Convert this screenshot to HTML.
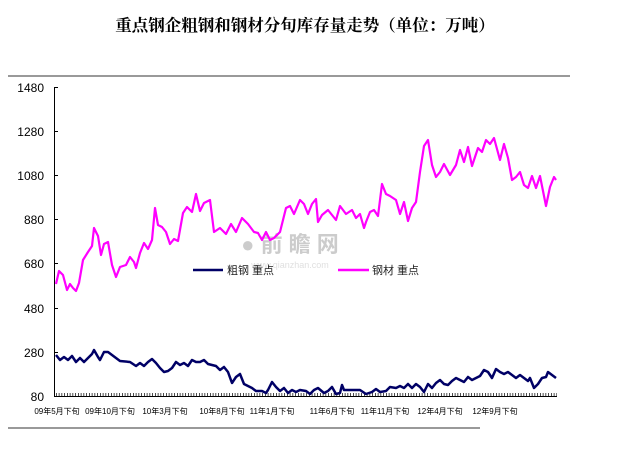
<!DOCTYPE html>
<html><head><meta charset="utf-8"><style>
body{margin:0;background:#fff;width:622px;height:446px;overflow:hidden}
text{font-family:"Liberation Sans","Noto Sans CJK SC",sans-serif}
</style></head><body>
<svg width="622" height="446" viewBox="0 0 622 446" xmlns="http://www.w3.org/2000/svg">
<text x="305" y="31" text-anchor="middle" font-size="16.5" font-weight="bold" style="font-family:'Noto Serif CJK SC','Noto Sans CJK SC',serif">重点钢企粗钢和钢材分旬库存量走势（单位：万吨）</text>
<line x1="8" y1="76" x2="570" y2="76" stroke="#333" stroke-width="1"/>
<line x1="8" y1="428" x2="480" y2="428" stroke="#333" stroke-width="1"/>
<text x="290" y="252" text-anchor="middle" font-size="22" font-weight="bold" fill="#ccc">● 前 瞻 网</text>
<text x="290" y="268" text-anchor="middle" font-size="9" fill="#e0e0e0">www.qianzhan.com</text>
<g stroke="#000" stroke-width="1">
<line x1="54.5" y1="87" x2="54.5" y2="397"/>
<line x1="54" y1="396.5" x2="557" y2="396.5"/>
<line x1="54" y1="87.5" x2="58" y2="87.5"/><line x1="54" y1="131.5" x2="58" y2="131.5"/><line x1="54" y1="175.5" x2="58" y2="175.5"/><line x1="54" y1="219.5" x2="58" y2="219.5"/><line x1="54" y1="263.5" x2="58" y2="263.5"/><line x1="54" y1="308.5" x2="58" y2="308.5"/><line x1="54" y1="352.5" x2="58" y2="352.5"/>
</g>
<line x1="56" y1="394.5" x2="557" y2="394.5" stroke="#000" stroke-width="3" stroke-dasharray="0.7 2.05"/>
<g font-size="12" text-anchor="end" fill="#000">
<text x="44" y="92">1480</text><text x="44" y="136">1280</text><text x="44" y="180">1080</text><text x="44" y="224">880</text><text x="44" y="268">680</text><text x="44" y="313">480</text><text x="44" y="357">280</text><text x="44" y="401">80</text>
</g>
<g font-size="8" text-anchor="middle" fill="#000">
<text x="57" y="414">09年5月下旬</text><text x="110" y="414">09年10月下旬</text><text x="165" y="414">10年3月下旬</text><text x="222" y="414">10年8月下旬</text><text x="272" y="414">11年1月下旬</text><text x="332" y="414">11年6月下旬</text><text x="385" y="414">11年11月下旬</text><text x="440" y="414">12年4月下旬</text><text x="495" y="414">12年9月下旬</text>
</g>
<polyline fill="none" stroke="#ff00ff" stroke-width="2.2" stroke-linejoin="round" points="56,284 59,271 63,275 67,290 70,284 73,288 76,291 79,283 83,260 88,252 92,246 94,228 98,236 101,255 104,244 108,242 112,265 116,277 120,267 126,265 130,257 134,262 136,268 140,253 144,243 148,249 152,240 155,208 158,225 162,227 166,232 170,244 174,239 178,241 183,213 187,207 192,212 196,194 200,211 204,203 210,200 214,232 220,228 226,234 231,224 236,232 242,218 248,224 254,232 258,233 262,240 266,232 270,240 274,238 280,232 286,208 290,206 294,214 300,200 304,204 308,214 312,204 316,199 318,222 322,215 328,210 336,220 340,206 346,214 352,210 356,218 360,214 364,228 366,222 370,212 374,210 378,216 382,184 386,194 390,196 396,200 400,214 404,202 408,221 412,208 416,202 420,172 424,146 428,140 432,165 436,177 440,172 444,164 450,175 456,165 460,150 464,162 468,147 472,166 478,148 482,152 486,140 490,144 494,138 500,160 504,144 508,158 512,180 516,177 520,172 524,185 528,188 532,176 536,188 540,176 542,186 546,206 550,187 554,177 556,180"/>
<polyline fill="none" stroke="#000066" stroke-width="2.5" stroke-linejoin="round" points="56,355 60,360 64,357 68,360 72,356 76,362 80,358 84,362 88,358 92,354 94,350 98,357 100,360 104,352 108,352 112,355 116,358 120,361 130,362 136,366 140,363 144,366 148,362 152,359 156,363 160,368 164,372 168,371 172,368 176,362 180,365 184,363 188,366 192,360 196,362 200,362 204,360 208,364 212,365 216,366 220,370 224,367 228,372 232,383 236,377 240,374 244,384 248,386 252,388 256,391 262,391 266,393 268,390 272,382 276,387 280,391 284,388 288,393 292,390 296,392 300,390 306,391 310,394 314,390 318,388 324,393 328,391 332,387 336,394 340,393 342,385 344,390 350,390 360,390 366,394 372,392 376,389 380,392 386,391 390,387 396,388 400,386 404,388 408,384 412,388 416,384 420,387 424,392 428,384 432,388 436,383 440,380 444,384 448,385 452,381 456,378 460,380 464,382 468,377 472,380 476,378 480,376 484,370 488,372 492,378 496,369 500,372 504,374 508,372 512,375 516,378 520,375 524,378 528,381 530,378 534,388 538,384 542,378 546,377 548,372 552,375 556,378"/>
<line x1="193" y1="270" x2="223" y2="270" stroke="#000066" stroke-width="2.5"/>
<text x="227" y="274" font-size="11" fill="#222">粗钢 重点</text>
<line x1="338" y1="270" x2="369" y2="270" stroke="#ff00ff" stroke-width="2.5"/>
<text x="372" y="274" font-size="11" fill="#222">钢材 重点</text>
</svg>
</body></html>
